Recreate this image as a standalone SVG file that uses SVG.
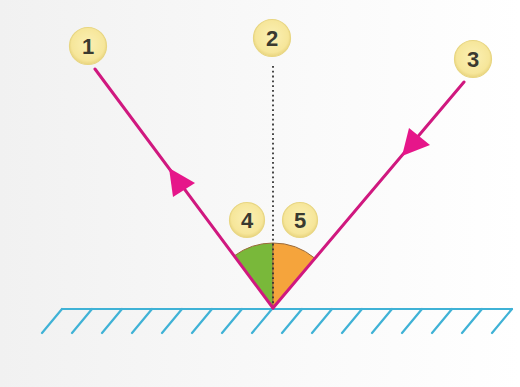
<svg xmlns="http://www.w3.org/2000/svg" width="520" height="387" viewBox="0 0 520 387">
<defs>
<linearGradient id="bg" x1="0" y1="0" x2="1" y2="0">
<stop offset="0" stop-color="#f1f1f1"/>
<stop offset="0.6" stop-color="#fafafa"/>
<stop offset="1" stop-color="#ffffff"/>
</linearGradient>
<radialGradient id="badge" cx="0.5" cy="0.45" r="0.55">
<stop offset="0" stop-color="#fbf0b4"/>
<stop offset="0.8" stop-color="#f6e69a"/>
<stop offset="1" stop-color="#e9d47e"/>
</radialGradient>
</defs>
<style>
.ray{stroke:#d0187f;stroke-width:3;fill:none;stroke-linecap:round}
.head{fill:#e6168a}
.normal{stroke:#333;stroke-width:1.8;stroke-dasharray:1.8 3;fill:none}
.mirror{stroke:#3fb2d6;stroke-width:2.2;fill:none;stroke-linecap:round}
.badge circle{fill:url(#badge);stroke:#e8d682;stroke-width:1.2}
.badge text{font-family:"Liberation Sans",Arial,sans-serif;font-size:22px;font-weight:bold;fill:#3a3a30;text-anchor:middle}
.sector{stroke:#9a6a3a;stroke-width:1}
</style>
<rect width="520" height="387" fill="url(#bg)"/>

<g id="mirror">
<line class="mirror" x1="62" y1="309" x2="512" y2="309"/>
<path class="mirror" d="M62 309l-20 24M92 309l-20 24M122 309l-20 24M152 309l-20 24M182 309l-20 24M212 309l-20 24M242 309l-20 24M272 309l-20 24M302 309l-20 24M332 309l-20 24M362 309l-20 24M392 309l-20 24M422 309l-20 24M452 309l-20 24M482 309l-20 24M512 309l-20 24"/>
</g>

<g id="angle4">
<path class="sector" d="M273 308 L234.2 255.9 A65 65 0 0 1 273 243 Z" fill="#79b83a"/>
</g>
<g id="angle5">
<path class="sector" d="M273 308 L273 243 A65 65 0 0 1 315 258.4 Z" fill="#f5a43c"/>
</g>

<g id="connectors">
<line class="normal" x1="273" y1="66" x2="273" y2="308"/>
<line class="ray" x1="95" y1="69" x2="273" y2="308"/>
<line class="ray" x1="464" y1="82" x2="273" y2="308"/>
<polygon class="head" points="169,168 195,183 173,197"/>
<polygon class="head" points="402,156 409,128 430,145"/>
</g>

<g id="n1" class="badge"><circle cx="88" cy="46" r="18.5"/><text x="88" y="54">1</text></g>
<g id="n2" class="badge"><circle cx="272" cy="38" r="18.5"/><text x="272" y="46">2</text></g>
<g id="n3" class="badge"><circle cx="473" cy="59" r="18.5"/><text x="473" y="67">3</text></g>
<g id="n4" class="badge"><circle cx="247" cy="220" r="17.5"/><text x="247" y="228">4</text></g>
<g id="n5" class="badge"><circle cx="300" cy="220" r="17.5"/><text x="300" y="228">5</text></g>
</svg>
